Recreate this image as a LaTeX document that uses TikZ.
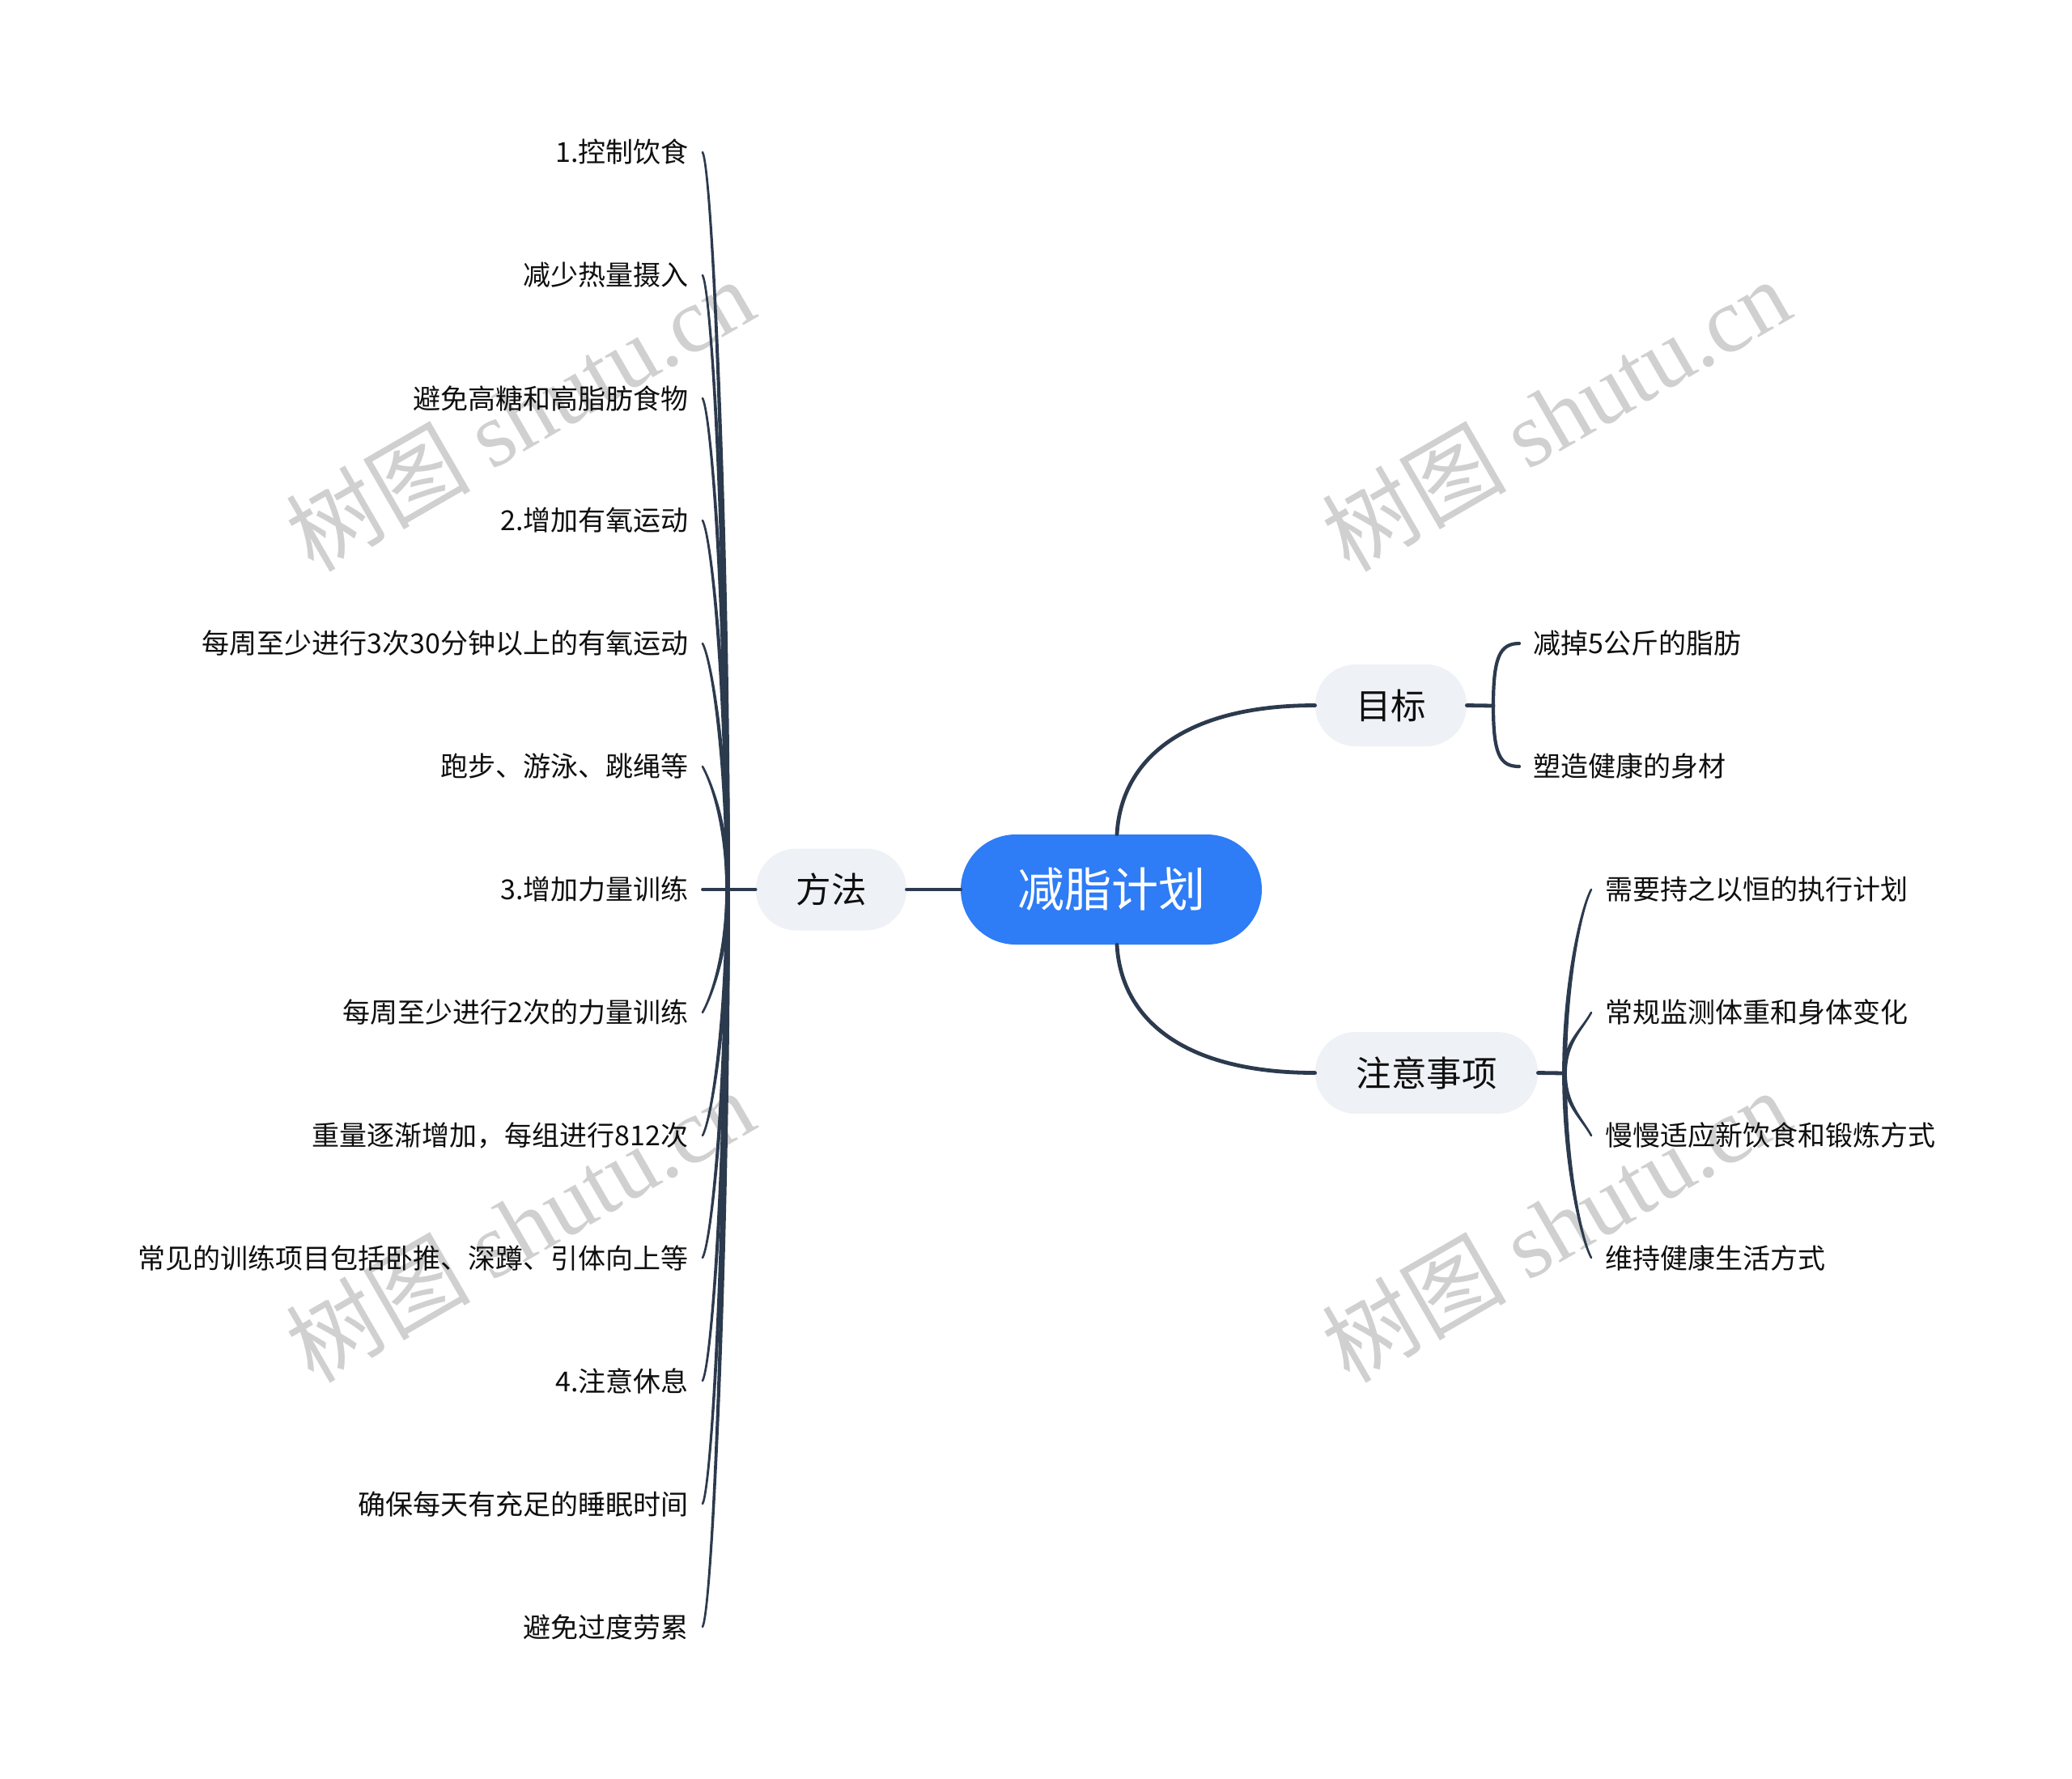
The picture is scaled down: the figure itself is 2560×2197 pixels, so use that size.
\documentclass[tikz,border=0pt]{standalone}
\usepackage{fontspec}
\setmainfont{Noto Sans CJK SC}
\newfontfamily\wmserif{Liberation Serif}
\usetikzlibrary{calc}
\definecolor{linec}{RGB}{44,58,78}
\definecolor{rootc}{RGB}{46,124,246}
\definecolor{mainc}{RGB}{238,241,245}
\definecolor{wmc}{RGB}{208,208,208}
\definecolor{txtc}{RGB}{15,15,15}
\begin{document}
\begin{tikzpicture}[x=0.5pt,y=-0.5pt,
  wm/.style={text=wmc, rotate=30, font=\fontsize{57}{57}\selectfont, inner sep=0},
  rootnode/.style={fill=rootc, text=white, rounded corners=34pt, minimum width=186pt, minimum height=68pt, inner sep=0, font=\fontsize{29}{29}\selectfont},
  mainnode/.style={fill=mainc, text=txtc, rounded corners=25pt, minimum height=50.5pt, inner sep=0, font=\fontsize{21.75}{22}\selectfont},
  leaf/.style={inner xsep=8.5pt, inner ysep=0, text=txtc, font=\fontsize{17}{17}\selectfont},
  conn/.style={draw=linec, line width=2.4pt, line cap=round},
  sub/.style={draw=linec, fill=linec, line width=1.3pt, line cap=round, line join=round}]
\useasboundingbox (0,0) rectangle (2560,2197);
\fill[white] (0,0) rectangle (2560,2197);

% watermarks
\node[wm] (w1) at (642,512) {树图 {\wmserif shutu.cn}};
\node[wm] (w2) at (1922,512) {树图 {\wmserif shutu.cn}};
\node[wm] (w3) at (642,1514) {树图 {\wmserif shutu.cn}};
\node[wm] (w4) at (1922,1514) {树图 {\wmserif shutu.cn}};

% main nodes
\node[rootnode] (root) at (1373,1099) {减脂计划};
\node[mainnode, minimum width=93pt] (ff) at (1027,1099) {方法};
\node[mainnode, minimum width=93.5pt] (mb) at (1718.5,871.5) {目标};
\node[mainnode, minimum width=137.5pt] (zy) at (1762.5,1325.5) {注意事项};

\draw[conn] (root.west) -- (ff.east);
\draw[conn] ([xshift=3.5pt]root.north) .. controls +(5,-90) and +(-165,0) .. (mb.west);
\draw[conn] ([xshift=3.5pt]root.south) .. controls +(5,90) and +(-165,0) .. (zy.west);

% left children
\foreach \i/\y/\t in {0/188/1.控制饮食, 1/340/减少热量摄入, 2/492/避免高糖和高脂肪食物, 3/643/2.增加有氧运动, 4/795/每周至少进行3次30分钟以上的有氧运动, 5/947/跑步、游泳、跳绳等, 6/1099/3.增加力量训练, 7/1251/每周至少进行2次的力量训练, 8/1403/重量逐渐增加，每组进行812次, 9/1554/常见的训练项目包括卧推、深蹲、引体向上等, 10/1706/4.注意休息, 11/1858/确保每天有充足的睡眠时间, 12/2010/避免过度劳累}
  {\node[leaf, anchor=east] (L\i) at (868,\y) {\t};}
\coordinate (lroot) at (899,1099);
\draw[conn, line width=1.9pt] (ff.west) -- (L6.east);
\foreach \i/\y in {0/188,1/340,2/492,3/643,4/795,5/947,7/1251,8/1403,9/1554,10/1706,11/1858,12/2010} {
  \pgfmathsetmacro\dy{(\y-1099)/2}
  \pgfmathsetmacro\hk{\y<1099 ? 22 : -22}
  \draw[sub] ([xshift=-0.8pt]lroot) .. controls +(0,\dy) and +(12,\hk) .. (L\i.east)
     .. controls +(12,\hk) and +(0,\dy) .. ([xshift=0.8pt]lroot) -- cycle;
}

% goal children
\coordinate (mroot) at (1845,872);
\draw[conn] (mb.east) -- (mroot);
\node[leaf, anchor=west] (R0) at (1877,795) {减掉5公斤的脂肪};
\node[leaf, anchor=west] (R1) at (1877,947) {塑造健康的身材};
\draw[conn, line width=2.1pt] (mroot) .. controls +(0,-60) and +(-24,0) .. (R0.west);
\draw[conn, line width=2.1pt] (mroot) .. controls +(0,60) and +(-24,0) .. (R1.west);

% notes children
\coordinate (zroot) at (1933,1326);
\draw[conn] (zy.east) -- (zroot);
\foreach \i/\y/\t in {0/1099/需要持之以恒的执行计划, 1/1251/常规监测体重和身体变化, 2/1403/慢慢适应新饮食和锻炼方式, 3/1554/维持健康生活方式}
  {\node[leaf, anchor=west] (Z\i) at (1966,\y) {\t};}
\foreach \i/\y in {0/1099,1/1251,2/1403,3/1554} {
  \pgfmathsetmacro\dy{(\y-1326)/2}
  \pgfmathsetmacro\hk{\y<1326 ? 22 : -22}
  \draw[sub] ([xshift=-0.8pt]zroot) .. controls +(0,\dy) and +(-12,\hk) .. (Z\i.west)
     .. controls +(-12,\hk) and +(0,\dy) .. ([xshift=0.8pt]zroot) -- cycle;
}
\end{tikzpicture}
\end{document}
